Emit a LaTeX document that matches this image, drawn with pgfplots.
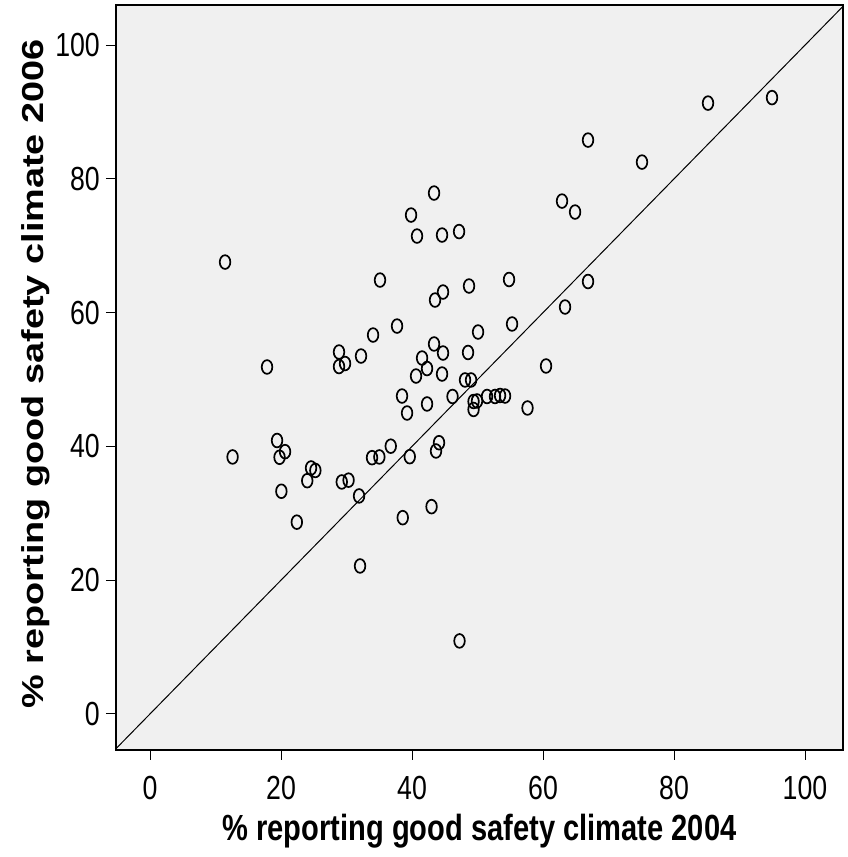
\documentclass[border=0pt]{standalone}
\usepackage{pgfplots}
\pgfplotsset{compat=1.18}
\usepackage{fontspec}
\setmainfont{Liberation Sans}
\newfontfamily\nf[FakeStretch=0.8]{Liberation Sans}
\definecolor{bg}{RGB}{240,240,240}
\begin{document}
\begin{tikzpicture}
\useasboundingbox (-116bp,-107bp) rectangle (732bp,750bp);
\begin{axis}[
  at={(0bp,0bp)}, anchor=south west,
  scale only axis, width=727bp, height=745bp,
  xmin=-5.2, xmax=105.8, ymin=-5.4, ymax=106,
  axis background/.style={fill=bg},
  axis line style={line width=1.2bp, black},
  tick pos=left, tick align=outside, major tick length=10bp,
  tick style={line width=1bp, black},
  xtick={0,20,40,60,80,100}, ytick={0,20,40,60,80,100},
  /pgf/number format/assume math mode=true,
  ticklabel style={font=\nf\fontsize{33.5}{35}\selectfont, inner sep=0pt},
  xticklabel style={anchor=north},
  yticklabel style={anchor=east},
  xticklabel shift=16bp,
  yticklabel shift=6bp,
  xlabel={\nf\fontsize{36.5}{40}\selectfont\bfseries \% reporting good safety climate 2004},
  ylabel={\scalebox{1}[0.8]{\fontsize{38}{42}\selectfont\bfseries \% reporting good safety climate 2006}},
  xlabel style={at={(axis description cs:0.5,-0.1208)}, anchor=base, inner sep=0pt},
  ylabel style={at={(axis description cs:-0.100,0.505)}, anchor=base, inner sep=0pt},
]
\addplot[black, line width=1bp, no markers] coordinates {(-10,-10) (120,120)};
\addplot[only marks, mark=o, mark size=6.9pt, mark options={xscale=0.77, line width=1.7bp, black, solid}] coordinates {
(94.96,92.15) (85.19,91.33) (66.87,85.80) (75.11,82.51) (62.90,76.68) (64.89,75.04)
(43.36,77.88) (39.85,74.59) (40.76,71.45) (44.58,71.60) (47.18,72.12) (11.45,67.56)
(35.11,64.87) (54.81,64.95) (66.87,64.65) (48.70,63.98) (44.73,63.08) (43.51,61.88)
(63.36,60.84) (37.71,57.99) (55.27,58.30) (50.08,57.10) (34.05,56.65) (28.85,54.11)
(32.21,53.51) (41.53,53.21) (44.73,53.96) (48.55,54.04) (43.36,55.31) (17.86,51.87)
(28.85,51.94) (29.77,52.39) (42.29,51.64) (40.61,50.52) (44.58,50.82) (60.46,52.02)
(48.09,49.93) (49.01,49.93) (38.47,47.53) (46.18,47.46) (42.29,46.34) (49.39,46.71)
(49.92,46.79) (49.39,45.52) (51.45,47.46) (52.67,47.46) (53.44,47.61) (54.20,47.53)
(57.63,45.74) (39.24,44.99) (19.39,40.88) (19.77,38.37) (20.61,39.21) (12.60,38.42)
(36.75,40.03) (33.89,38.31) (35.01,38.42) (44.12,40.55) (43.66,39.31) (39.65,38.46)
(24.58,36.77) (25.24,36.40) (20.05,33.29) (24.00,34.87) (29.27,34.68) (30.31,34.95)
(31.91,32.59) (22.41,28.67) (38.58,29.34) (42.98,30.99) (32.06,22.12) (47.25,10.91)
};
\end{axis}
\end{tikzpicture}
\end{document}
